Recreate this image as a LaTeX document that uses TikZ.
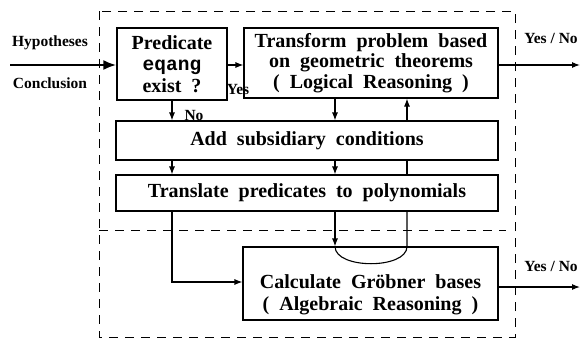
\documentclass[tikz,border=0pt]{standalone}
\usepackage{fontspec}
\setmainfont{Liberation Serif}
\newfontfamily\eqfont{Liberation Mono}
\usetikzlibrary{arrows.meta}
\newcommand\myboxfont{\fontsize{20}{20.5}\selectfont\bfseries\spaceskip=10pt\relax}
\newcommand\mypredfont{\fontsize{20}{21.5}\selectfont\bfseries\spaceskip=10pt\relax}
\newcommand\mycalcfont{\fontsize{20}{22}\selectfont\bfseries\spaceskip=10pt\relax}
\newcommand\myeqang{{\eqfont\fontsize{19.5}{20}\selectfont\bfseries eqang}}
\tikzset{
  box/.style={draw, line width=1.1pt, inner sep=0pt, align=center, font=\myboxfont},
  boxtext/.style={inner sep=0pt, align=center, font=\mycalcfont},
  lbl/.style={inner sep=0pt, font=\fontsize{15.5}{16}\selectfont\bfseries},
  conn/.style={line width=1.1pt},
  arr/.style={line width=1.1pt, -{Latex[length=8pt,width=6pt]}},
  bigarr/.style={line width=2.6pt, -{Latex[length=13pt,width=10pt]}},
  frame/.style={line width=0.9pt, dash pattern=on 9pt off 7pt}
}
\begin{document}
\begin{tikzpicture}[x=1pt,y=-1pt]
\useasboundingbox (0,0) rectangle (581,340);
% dashed frame
\draw[frame] (99,11) rectangle (515,337);
\draw[frame] (99,230) -- (506,230);
% boxes
\node[box, font=\mypredfont, minimum width=110pt, minimum height=72pt] (pred) at (172,64)
  {Predicate\\ \myeqang\\ exist ?};
\node[box, minimum width=254pt, minimum height=70pt] (trans) at (371,63)
  {Transform problem based\\ on geometric theorems\\ ( Logical Reasoning )};
\node[box, minimum width=382pt, minimum height=39pt] (add) at (307,140.5)
  {Add subsidiary conditions};
\node[box, minimum width=382pt, minimum height=36pt] (transl) at (307,193)
  {Translate predicates to polynomials};
\node[box, minimum width=255pt, minimum height=73pt] (calc) at (370.5,283.5) {};
\node[boxtext] (calctext) at (370.5,295)
  {Calculate Gr\"obner bases\\ ( Algebraic Reasoning )};
% labels
\node[lbl] (hyp) at (50,43) {Hypotheses};
\node[lbl] (con) at (50,83) {Conclusion};
\node[lbl] (yes) at (238,89) {Yes};
\node[lbl] (no) at (194,116) {No};
\node[lbl] (yn1) at (551,38) {Yes / No};
\node[lbl] (yn2) at (551,266) {Yes / No};
% coordinates
\coordinate (in) at (10,65);
\coordinate (xa) at (172,0);
\coordinate (xb) at (335,0);
\coordinate (xc) at (407,0);
\coordinate (j) at (172,282);
\coordinate (out1) at (580,65);
\coordinate (out2) at (580,287);
% connectors
\draw[bigarr] (in) -- (in -| pred.west);
\draw[arr] (pred.east |- in) -- (in -| trans.west);
\draw[arr] (pred.south) -- (xa |- add.north);
\draw[arr] (xb |- trans.south) -- (xb |- add.north);
\draw[arr] (xc |- add.north) -- (xc |- trans.south);
\draw[arr] (xa |- add.south) -- (xa |- transl.north);
\draw[arr] (xb |- add.south) -- (xb |- transl.north);
\draw[conn] (xc |- add.south) -- (xc |- transl.north);
\draw[arr] (xa |- transl.south) -- (j) -- (j -| calc.west);
\draw[arr] (xb |- transl.south) -- (xb |- calc.north);
\draw[conn] (xc |- transl.south) -- (xc |- calc.north)
  .. controls ([yshift=-23pt]xc |- calc.north) and ([yshift=-23pt]xb |- calc.north) .. (xb |- calc.north);
\draw[arr] (trans.east |- out1) -- (out1);
\draw[arr] (calc.east |- out2) -- (out2);
\end{tikzpicture}
\end{document}
